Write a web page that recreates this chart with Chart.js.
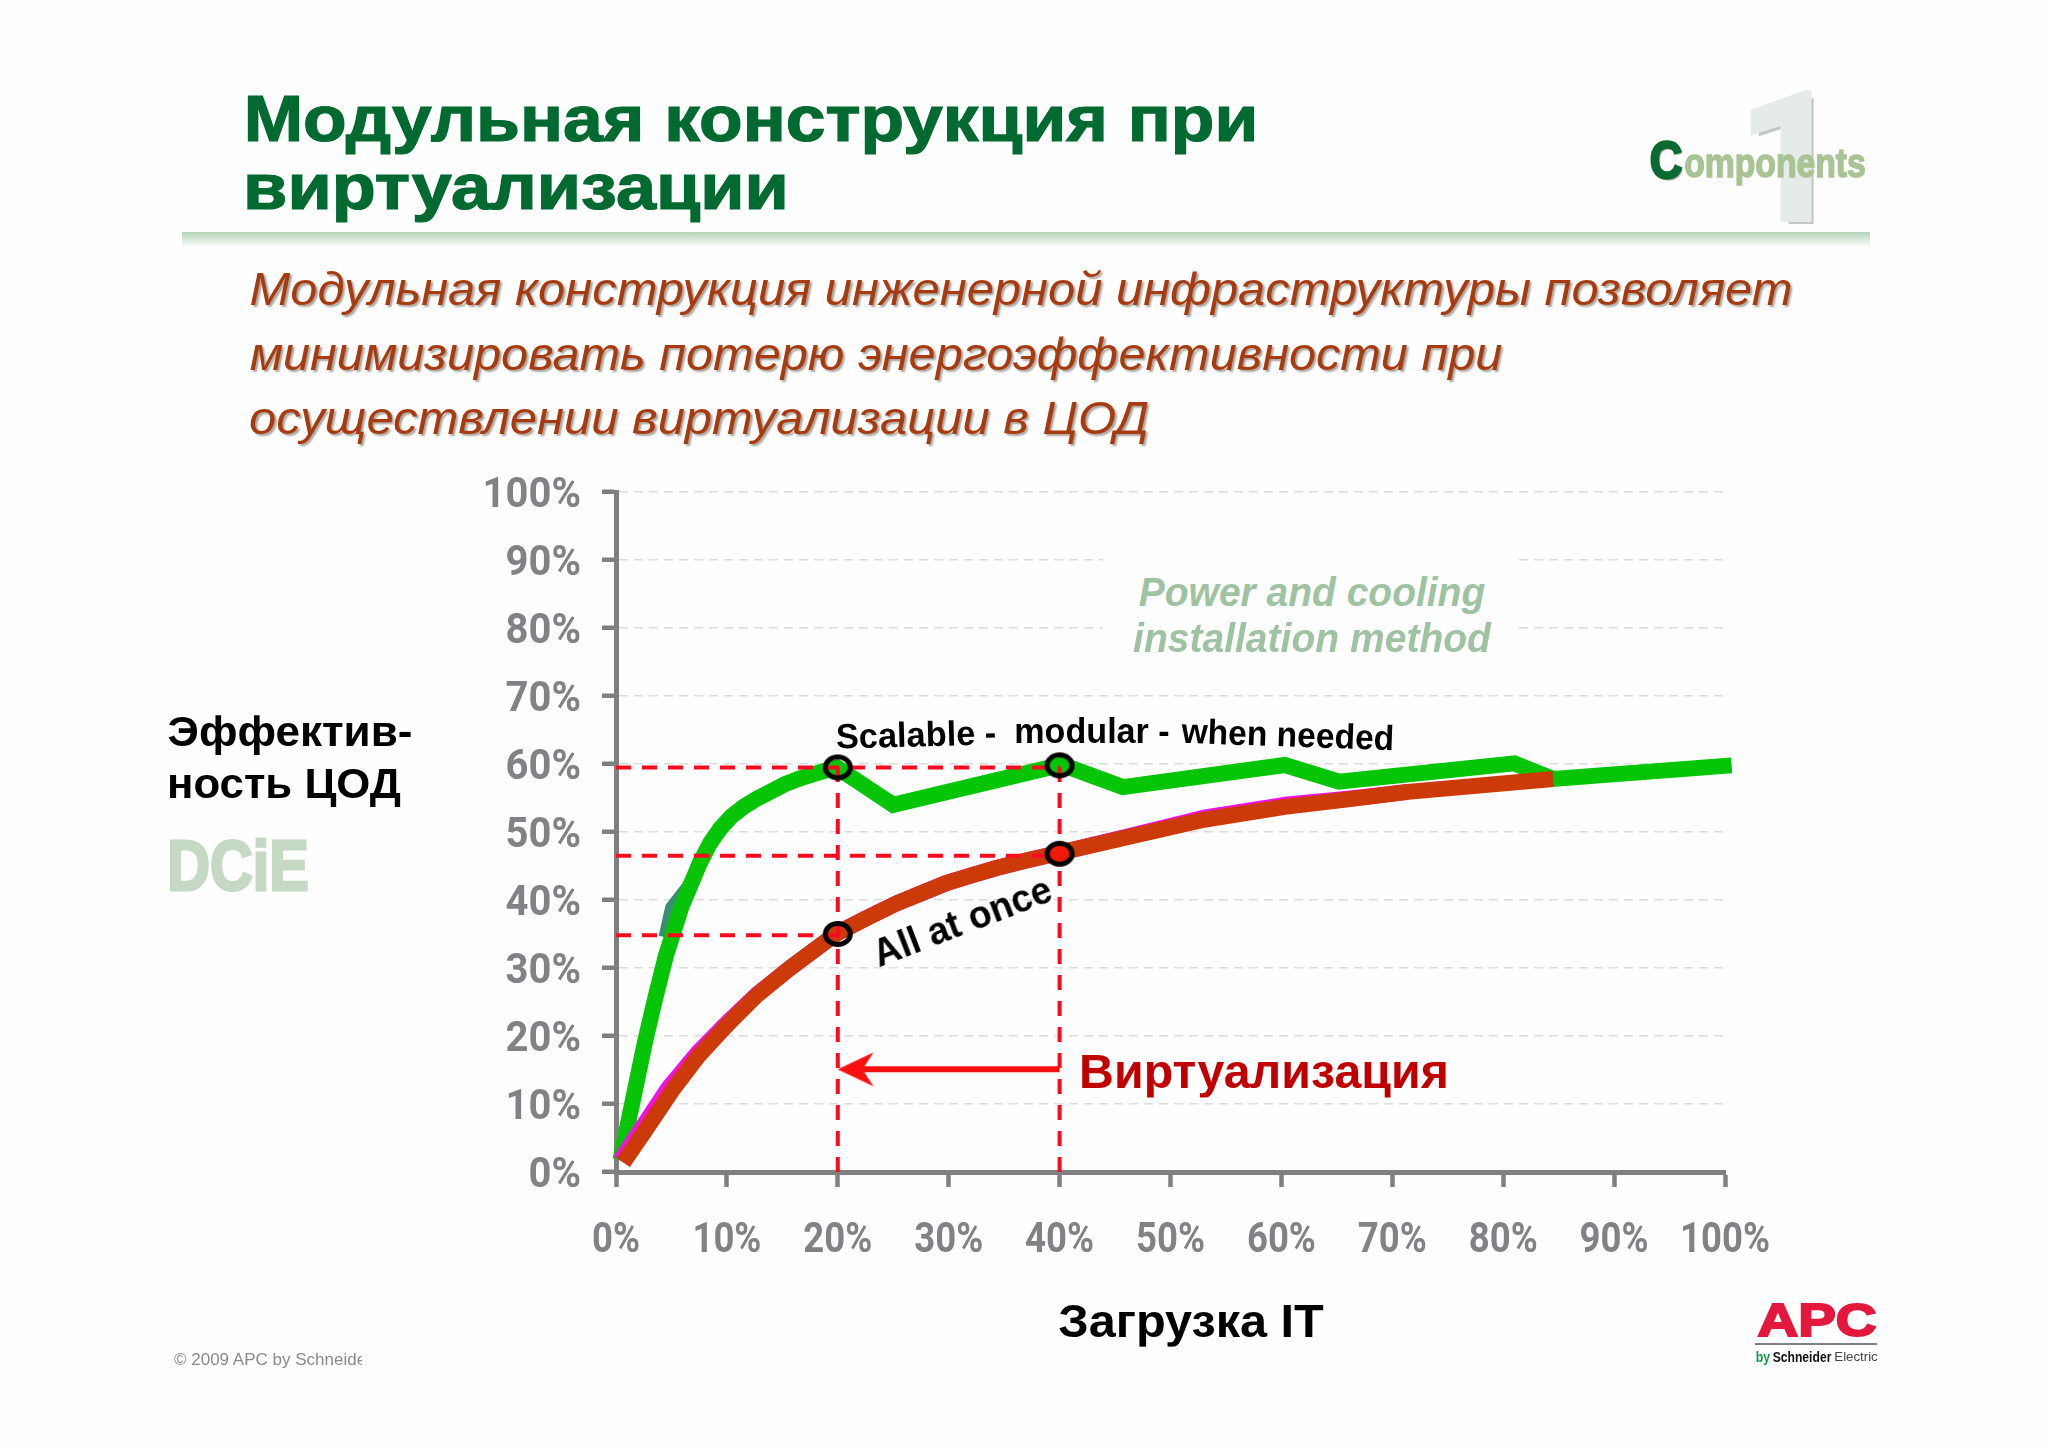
<!DOCTYPE html>
<html lang="ru"><head><meta charset="utf-8">
<script src="https://cdn.jsdelivr.net/npm/chart.js@4/dist/chart.umd.js"></script>
<style>
html,body{margin:0;padding:0;background:#fefefe}
#stage{position:relative;width:2048px;height:1447px;overflow:hidden;background:#fefefe}
canvas{position:absolute;left:0;top:0}
.t{position:absolute;white-space:pre;line-height:1;z-index:3}
.box{position:absolute;z-index:1}
</style></head><body>
<div id="stage"><canvas id="c" width="2048" height="1447"></canvas></div>
<script>
const tickValues = [0,10,20,30,40,50,60,70,80,90,100];
const greenX = [0.4,2.6,3.5,4.5,5.9,7.6,8.5,9.4,10.4,11.5,12.7,13.9,15.2,16.6,18.2,19.9,25,40.2,45.7,60.3,65.2,81,84.5,100.6];
const greenY = [1.8,19,25.3,31.8,39,45.6,48.4,50.5,52.3,53.7,54.9,55.9,57,57.9,58.7,59.5,54,59.9,56.6,59.85,57.4,60.1,57.8,59.8];
const brownX = [0.66,2.76,5.2,7.4,10,12.7,15.7,19.9,22.9,25.3,27.7,29.8,32.2,34.3,37,39.9,46.3,53,60.3,66,71.4,84.5];
const brownY = [1.4,6.4,12.3,17,21.6,26,30,35.1,37.6,39.5,41.1,42.5,43.7,44.7,45.8,46.9,49.3,51.8,53.7,54.8,55.9,57.8];
const magentaX = [0.4,4.7,7.4,10,12.7,15.7,19.9,22.9,25.3,27.7,29.8,32.2,34.3,37,39.9,46.3,53,60.3,66,71.4];
const magentaY = [1.7,12.3,17.6,21.9,26.1,30,35.1,37.6,39.5,41.1,42.5,43.7,44.7,45.8,46.9,49.4,52.1,54,54.9,55.9];
const tealX = [4.2,4.8,6.5];
const tealY = [34.6,39,42.6];
const markerX = [20,20,40,40];
const markerY = [59.5,35,59.8,46.8];
const dropX = [20,40];
const level20 = [59.5,34.8];
const level40 = [59.5,46.5];
const arrowX = [40,21.6];
const arrowY = [15.1,15.1];

const zip=(xs,ys)=>xs.map((x,i)=>({x,y:ys[i]}));

function ring(fill){
  const c=document.createElement('canvas');c.width=36;c.height=32;
  const g=c.getContext('2d');
  g.beginPath();g.ellipse(18,16,12.5,10.5,0,0,Math.PI*2);
  if(fill){g.fillStyle=fill;g.fill();}
  g.lineWidth=5;g.strokeStyle='#000';g.stroke();
  return c;
}
function arrowHead(){
  const c=document.createElement('canvas');c.width=38;c.height=38;
  const g=c.getContext('2d');
  g.fillStyle='#f81010';
  g.beginPath();g.moveTo(1,19);g.lineTo(37,2);g.lineTo(26,19);g.lineTo(37,36);g.closePath();g.fill();
  return c;
}
const dashRed='#fa0a1e';
const vline=(x,top)=>({data:[{x,y:0},{x,y:top}],borderColor:dashRed,borderWidth:4,borderDash:[15,11],pointRadius:0,fill:false});
const hline=(x,y)=>({data:[{x:0,y},{x,y}],borderColor:dashRed,borderWidth:4,borderDash:[15,11],pointRadius:0,fill:false});

/* tick labels are condensed like the original's narrow face */
const condense={id:'condense',beforeDraw(chart){
  const g=chart.ctx;if(g.__c)return;g.__c=true;const f=g.fillText;
  g.fillText=function(t,x,y){f.call(g,t,x,y,g.measureText(t).width*(g.textAlign==='center'?0.85:0.93));};
}};

const tickFont={family:'Roboto',weight:'bold',size:43};
const cfg={type:'line',plugins:[condense],data:{datasets:[
  {data:zip(markerX,markerY),showLine:false,pointRadius:12,pointHoverRadius:12,
   pointStyle:[ring(null),ring(null),ring(null),ring('#f01808')],clip:false},
  {data:zip(arrowX,arrowY),borderColor:'#f81010',borderWidth:6,
   pointRadius:[0,12],pointStyle:[false,arrowHead()],clip:false},
  vline(dropX[0],level20[0]),vline(dropX[1],level40[0]),
  hline(dropX[1],level40[0]),hline(dropX[1],level40[1]),hline(dropX[0],level20[1]),
  {data:zip(brownX,brownY),borderColor:'#cc3a08',borderWidth:16,pointRadius:0,borderCapStyle:'butt',borderJoinStyle:'round',clip:false},
  {data:zip(magentaX,magentaY),borderColor:'#f010e8',borderWidth:16,pointRadius:0,borderJoinStyle:'round',clip:false},
  {data:zip(greenX,greenY),borderColor:'#06c406',borderWidth:16,pointRadius:0,borderCapStyle:'butt',borderJoinStyle:'miter',clip:false},
  {data:zip(tealX,tealY),borderColor:'#3a8f72',borderWidth:8,pointRadius:0,borderJoinStyle:'miter',clip:false}
]},options:{
  responsive:false,devicePixelRatio:1,animation:false,
  layout:{padding:{left:0,top:492,right:323,bottom:0}},
  plugins:{legend:{display:false},tooltip:{enabled:false}},
  events:[],
  scales:{
    x:{type:'linear',min:0,max:100,
      afterFit(s){s.height=1447-1172;},
      afterBuildTicks(s){s.ticks=tickValues.map(value=>({value}));},
      grid:{drawOnChartArea:false,color:'#808080',tickColor:'#808080',tickLength:15,tickWidth:4.5},
      border:{color:'#808080',width:5},
      ticks:{padding:28,maxRotation:0,autoSkip:false,color:'#808285',font:tickFont,callback:v=>v+'%'}},
    y:{type:'linear',min:0,max:100,
      afterFit(s){s.width=616;},
      afterBuildTicks(s){s.ticks=tickValues.map(value=>({value}));},
      grid:{color:'#dcdcdc',lineWidth:1.5,tickColor:'#808080',tickLength:14,tickWidth:4.5},
      border:{color:'#808080',width:5,dash:[9,6]},
      ticks:{padding:21,labelOffset:4,autoSkip:false,color:'#808285',font:tickFont,callback:v=>v+'%'}}
  }}};
new Chart(document.getElementById('c'),cfg);

const stage=document.getElementById('stage');
function label(text,left,right,cy,css,rot){
  const d=document.createElement('div');d.className='t';d.textContent=text;
  d.style.cssText+=css;stage.appendChild(d);
  const k=(right-left)/d.offsetWidth;
  d.style.left=((left+right)/2)+'px';d.style.top=cy+'px';
  d.style.transform='translate(-50%,-50%) rotate('+(rot||0)+'deg) scaleX('+k+')';
  return d;
}
function box(l,t,w,h,bg){
  const d=document.createElement('div');d.className='box';
  d.style.cssText+='left:'+l+'px;top:'+t+'px;width:'+w+'px;height:'+h+'px;background:'+bg;
  stage.appendChild(d);return d;
}
const A='font-family:"Liberation Sans";';
const titleCss=A+'font-weight:bold;font-size:64px;color:#006a30;-webkit-text-stroke:1.2px #006a30;';
label('Модульная конструкция при',243,1258,119,titleCss);
label('виртуализации',243,789,187,titleCss);
box(182,232,1688,15,'linear-gradient(#b4d3b8,#fefefe)');
const subCss=A+'font-style:italic;font-size:47px;color:#a83a10;text-shadow:2px 2px 2px #a8a49c;';
label('Модульная конструкция инженерной инфраструктуры позволяет',249,1792,288,subCss);
label('минимизировать потерю энергоэффективности при',249,1502,353,subCss);
label('осуществлении виртуализации в ЦОД',249,1149,417,subCss);

/* logo, top right */
label('1',1739,1841,158,'font-family:Roboto;font-weight:bold;font-size:177px;color:#e4ebe8;text-shadow:5px 5px 0 #c4c6c4;-webkit-text-stroke:6px #e4ebe8;');
label('C',1649,1682,160,A+'font-weight:bold;font-size:52px;color:#0a6a32;-webkit-text-stroke:2.5px #0a6a32;text-shadow:2px 2px 1px #aaa;');
label('omponents',1684,1866,163,A+'font-weight:bold;font-size:40px;color:#a9c395;-webkit-text-stroke:1.5px #a9c395;');

/* axis titles */
const axisCss=A+'font-weight:bold;font-size:43px;color:#000;';
label('Эффектив-',167,412,731,axisCss);
label('ность ЦОД',167,401,783,axisCss);
label('DCiE',167,309,865,A+'font-weight:bold;font-size:71px;color:#c5d9c5;-webkit-text-stroke:3px #c5d9c5;');
label('Загрузка IT',1058,1324,1320,A+'font-weight:bold;font-size:47px;color:#000;');

/* chart annotations */
box(1103,540,411,110,'#fefefe');
const pwrCss=A+'font-weight:bold;font-style:italic;font-size:41px;color:#9fc2a2;';
label('Power and cooling',1139,1485,592,pwrCss);
label('installation method',1133,1491,638,pwrCss);
const noteCss=A+'font-weight:bold;font-size:35px;color:#000;';
label('Scalable -',836,996,734,noteCss,-1.5);
label('modular -',1014,1169,730,noteCss,0);
label('when needed',1181,1394,734,noteCss,2);
label('All at once',868,1056,921,A+'font-weight:bold;font-size:39px;color:#000;',-21);
label('Виртуализация',1079,1449,1071,A+'font-weight:bold;font-size:49px;color:#c00000;');

/* footer */
const cp=document.createElement('div');cp.className='t';cp.textContent='© 2009 APC by Schneider Electric';
cp.style.cssText+=A+'font-size:17px;color:#8a8a8a;left:174px;top:1351px;width:188px;overflow:hidden;';
stage.appendChild(cp);
label('APC',1757,1876,1320,A+'font-weight:bold;font-size:46px;color:#e3183c;-webkit-text-stroke:2px #e3183c;');
box(1755,1343,122,2,'#808080');
label('by',1756,1770,1357,A+'font-weight:bold;font-size:14px;color:#0a9a4a;');
label('Schneider',1772,1831,1357,A+'font-weight:bold;font-size:14px;color:#111;');
label('Electric',1834,1877,1357,A+'font-size:12px;color:#444;');
</script>
</body></html>
